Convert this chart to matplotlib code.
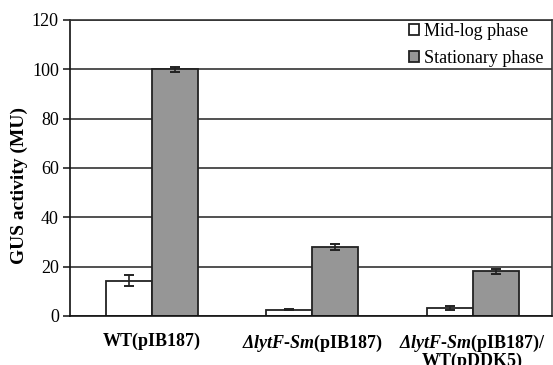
import matplotlib
matplotlib.use("Agg")
import matplotlib.pyplot as plt
import numpy as np

plt.rcParams['font.family'] = ['Liberation Serif', 'DejaVu Serif']
plt.rcParams['mathtext.fontset'] = 'custom'
plt.rcParams['mathtext.rm'] = 'Liberation Serif'
plt.rcParams['mathtext.it'] = 'Liberation Serif:italic'
plt.rcParams['mathtext.bf'] = 'Liberation Serif:bold'
plt.rcParams['mathtext.bfit'] = 'Liberation Serif:bold:italic'

categories = ["WT(pIB187)",
              r"$\mathbfit{\Delta lytF}$-$\mathbfit{Sm}$(pIB187)",
              "$\\mathbfit{\\Delta lytF}$-$\\mathbfit{Sm}$(pIB187)/\nWT(pDDK5)"]
series_names = ["Mid-log phase", "Stationary phase"]
midlog = [14.3, 2.6, 3.4]
midlog_err = [2.2, 0.3, 0.8]
stationary = [100.0, 28.0, 18.2]
stationary_err = [1.0, 1.2, 1.0]
yticks = [0, 20, 40, 60, 80, 100, 120]

fig = plt.figure(figsize=(5.53, 3.65), dpi=100)
ax = fig.add_axes([70/553, 1-316/365, 482/553, 296/365])

x = np.arange(len(categories))
w = 0.287
ax.set_axisbelow(True)
ax.yaxis.grid(True, color='#333333', linewidth=1.2)
ax.bar(x - w/2, midlog, w, color='white', edgecolor='#222222', linewidth=1.3,
       yerr=midlog_err, capsize=3.5, error_kw=dict(ecolor='#222222', elinewidth=1.2, capthick=1.4),
       label=series_names[0])
ax.bar(x + w/2, stationary, w, color='#969696', edgecolor='#222222', linewidth=1.3,
       yerr=stationary_err, capsize=3.5, error_kw=dict(ecolor='#222222', elinewidth=1.2, capthick=1.4),
       label=series_names[1])

ax.set_xlim(-0.509, 2.494)
ax.set_ylim(0, 120)
ax.set_yticks(yticks)
ax.tick_params(axis='y', labelsize=13, length=5, width=1.2, color='#222222', pad=3)
ax.set_xticks(x)
ax.set_xticklabels(categories, fontsize=13, fontweight='bold', linespacing=0.95)
ax.tick_params(axis='x', length=0, pad=12)
for s in ax.spines.values():
    s.set_color('#333333')
    s.set_linewidth(1.2)
ax.spines['left'].set_color('#111111')
ax.spines['bottom'].set_color('#111111')

ax.set_ylabel("GUS activity (MU)", fontsize=14, fontweight='bold')
ax.yaxis.set_label_coords(-0.087, 0.44)

leg = ax.legend(loc='upper right', bbox_to_anchor=(0.988, 1.0), frameon=False, fontsize=13,
                handlelength=0.6, handleheight=0.6, handletextpad=0.25, borderaxespad=0.0,
                labelspacing=0.55, borderpad=0.15)

fig.savefig("out.png", dpi=100)
